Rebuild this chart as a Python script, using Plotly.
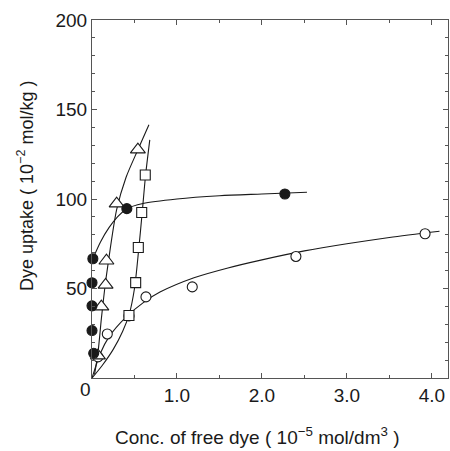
import plotly.graph_objects as go

# ---- data ----
# filled circles
fc_x = [0.01, 0.0, 0.0, 0.0, 0.02, 0.41, 2.27]
fc_y = [66.6, 53.2, 40.3, 26.5, 13.8, 94.6, 102.8]
fc_line_x = [0.01, 0.1, 0.2, 0.3, 0.41, 0.6, 1.0, 1.5, 2.0, 2.53]
fc_line_y = [66.6, 76, 84, 90, 94.6, 97.5, 100, 101.8, 102.8, 103.8]

# open circles
oc_x = [0.07, 0.18, 0.435, 0.635, 1.18, 2.40, 3.92]
oc_y = [11.8, 24.6, 34.7, 45.3, 50.9, 67.9, 80.6]
oc_line_x = [0.0, 0.1, 0.2, 0.4, 0.6, 0.8, 1.2, 1.6, 2.0, 2.5, 3.0, 3.5, 4.09]
oc_line_y = [0.0, 14, 23, 34, 42, 48, 56, 61.5, 66, 71, 75, 78.5, 82]

# open triangles
tr_x = [0.07, 0.11, 0.16, 0.17, 0.29, 0.54]
tr_y = [12.5, 39.9, 52.0, 65.5, 97.4, 127.6]
tr_line_x = [0.03, 0.07, 0.11, 0.15, 0.19, 0.29, 0.40, 0.54, 0.67]
tr_line_y = [2, 14, 33, 50, 64, 94, 112, 127.5, 141.5]

# open squares
sq_x = [0.435, 0.514, 0.545, 0.585, 0.627]
sq_y = [34.9, 53.3, 72.9, 92.5, 113.4]
sq_line_x = [0.0, 0.12, 0.25, 0.36, 0.44, 0.50, 0.55, 0.59, 0.63, 0.68]
sq_line_y = [0.0, 7, 16, 26, 36, 50, 72, 92, 113, 133]

x_ticks = [1, 2, 3, 4]
x_tick_text = ["1.0", "2.0", "3.0", "4.0"]
y_ticks = [50, 100, 150, 200]

INK = "#1a1a1a"
AX = "#555555"
FONT = "Liberation Sans, Arial, Helvetica, sans-serif"

fig = go.Figure()

def add_line(x, y):
    fig.add_trace(go.Scatter(x=x, y=y, mode="lines",
                             line=dict(color=INK, width=1.1, shape="spline", smoothing=0.8),
                             showlegend=False, hoverinfo="skip"))

add_line(oc_line_x, oc_line_y)
add_line(sq_line_x, sq_line_y)
add_line(tr_line_x, tr_line_y)
add_line(fc_line_x, fc_line_y)

def add_markers(x, y, symbol, size, fill):
    fig.add_trace(go.Scatter(x=x, y=y, mode="markers", cliponaxis=False,
                             marker=dict(symbol=symbol, size=size, color=fill,
                                         line=dict(color=INK, width=1.1)),
                             showlegend=False))

add_markers(oc_x, oc_y, "circle", 10, "white")
add_markers(sq_x, sq_y, "square", 10, "white")
add_markers(tr_x, tr_y, "triangle-up", 13, "white")
add_markers(fc_x, fc_y, "circle", 10, INK)

axis_common = dict(showgrid=False, zeroline=False, showline=True, linecolor=AX, linewidth=1,
                   mirror="allticks", ticks="inside", ticklen=5, tickcolor=AX,
                   tickfont=dict(family=FONT, size=19, color=INK))

fig.update_xaxes(range=[0, 4.19], tickvals=x_ticks, ticktext=x_tick_text,
                 minor=dict(dtick=0.5, tick0=0, ticks="inside", ticklen=3, tickcolor=AX),
                 **axis_common)
fig.update_yaxes(range=[0, 200], tickvals=y_ticks,
                 minor=dict(dtick=10, tick0=0, ticks="inside", ticklen=3, tickcolor=AX),
                 **axis_common)

fig.update_layout(
    width=450, height=451,
    margin=dict(l=92, r=2, t=20, b=73),
    paper_bgcolor="white", plot_bgcolor="white",
    font=dict(family=FONT, color=INK),
    annotations=[
        dict(text="0", xref="paper", yref="paper", x=-7/356, y=-11/358, showarrow=False,
             font=dict(family=FONT, size=19, color=INK), xanchor="center", yanchor="middle"),
        dict(text="Dye uptake ( 10<sup>−2</sup> mol/kg )", xref="paper", yref="paper",
             x=-67/356, y=(378-186)/358, textangle=-90, showarrow=False,
             font=dict(family=FONT, size=18, color=INK), xanchor="center", yanchor="middle"),
        dict(text="Conc. of free dye ( 10<sup>−5</sup> mol/dm<sup>3</sup> )", xref="paper", yref="paper",
             x=(257-92)/356, y=-(436-378)/358, showarrow=False,
             font=dict(family=FONT, size=19, color=INK), xanchor="center", yanchor="middle"),
    ],
)

# remove the page's default body margin so the figure fills the window exactly
fig.write_html(
    "out.html",
    config={"displayModeBar": False},
    post_script="document.body.style.margin='0';document.documentElement.style.overflow='hidden';document.body.style.overflow='hidden';",
)
